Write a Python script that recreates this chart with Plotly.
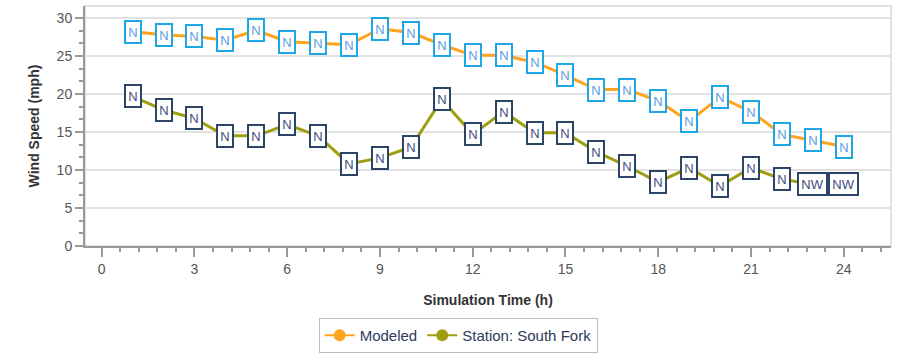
import plotly.graph_objects as go

hours = list(range(1, 25))
modeled = [28.2, 27.8, 27.6, 27.1, 28.4, 26.9, 26.7, 26.5, 28.6, 28.1, 26.5, 25.1,
           25.1, 24.2, 22.5, 20.6, 20.6, 19.1, 16.4, 19.6, 17.7, 14.7, 13.9, 13.1]
modeled_dir = ["N"] * 24
station = [19.7, 17.9, 16.8, 14.5, 14.5, 16.0, 14.5, 10.8, 11.6, 13.0, 19.3, 14.7,
           17.7, 14.9, 14.9, 12.4, 10.5, 8.4, 10.3, 7.9, 10.3, 8.8, 8.1, 8.2]
station_dir = ["N"] * 22 + ["NW", "NW"]
x_ticks = [0, 3, 6, 9, 12, 15, 18, 21, 24]
y_ticks = [0, 5, 10, 15, 20, 25, 30]

ORANGE = "#FFA41C"
OLIVE = "#9E9E0E"
BLUE = "#1EA7E8"
NAVY = "#2C4566"
FONT = "Liberation Sans"

fig = go.Figure()
fig.add_trace(go.Scatter(x=hours, y=modeled, mode="lines", name="Modeled",
                         line=dict(color=ORANGE, width=3), showlegend=False))
fig.add_trace(go.Scatter(x=hours, y=station, mode="lines", name="Station: South Fork",
                         line=dict(color=OLIVE, width=3), showlegend=False))
# legend entries
fig.add_trace(go.Scatter(x=[None], y=[None], mode="lines+markers", name="Modeled",
                         line=dict(color=ORANGE, width=2), marker=dict(size=12, color=ORANGE)))
fig.add_trace(go.Scatter(x=[None], y=[None], mode="lines+markers", name="Station: South Fork",
                         line=dict(color=OLIVE, width=2), marker=dict(size=12, color=OLIVE)))

for xs, ys, ds, bc, tc in [(hours, modeled, modeled_dir, BLUE, "#5AA0E0"),
                           (hours, station, station_dir, NAVY, "#3E4C82")]:
    for x, y, d in zip(xs, ys, ds):
        fig.add_annotation(x=x, y=y, xref="x", yref="y", text=d, showarrow=False,
                           font=dict(family=FONT, size=13, color=tc),
                           bgcolor="white", bordercolor=bc, borderwidth=2, borderpad=0,
                           width=14 if len(d) == 1 else 27, height=20,
                           xanchor="center", yanchor="middle")

fig.add_shape(type="rect", xref="paper", yref="paper", x0=0, x1=1, y0=0, y1=1,
              line=dict(color="#D8D8D8", width=1.5), layer="below")

fig.update_layout(
    width=905, height=354,
    margin=dict(l=85, r=14, t=6, b=108, autoexpand=False),
    paper_bgcolor="white", plot_bgcolor="white",
    font=dict(family=FONT, color="#555555", size=13),
    legend=dict(orientation="h", x=0.463, xanchor="center", y=-0.3, yanchor="top",
                bordercolor="#BBBBBB", borderwidth=1, font=dict(size=15, color="#2E3A5C"),
                itemwidth=30, tracegroupgap=0),
)
fig.update_xaxes(range=[-0.54, 25.53], tickvals=x_ticks, ticks="outside", ticklen=9,
                 tickcolor="#999999", tickwidth=1.5, showgrid=False, zeroline=False,
                 showline=True, linecolor="#999999", linewidth=2, automargin=False,
                 tickfont=dict(size=14, color="#555555"),
                 minor=dict(dtick=0.6, tick0=0, ticks="outside", ticklen=4, tickcolor="#999999"),
                 title=dict(text="<b>Simulation Time (h)</b>", standoff=19,
                            font=dict(size=14, color="#333333")))
fig.update_yaxes(range=[0, 31.6], tickvals=y_ticks, ticks="outside", ticklen=8,
                 tickcolor="#999999", tickwidth=1.5, showgrid=True, gridcolor="#E2E2E2",
                 gridwidth=1.5, zeroline=False, showline=True, linecolor="#999999", linewidth=2,
                 automargin=False,
                 tickfont=dict(size=14, color="#555555"),
                 minor=dict(dtick=5/3, tick0=0, ticks="outside", ticklen=4, tickcolor="#999999"),
                 title=dict(text="<b>Wind Speed (mph)</b>", standoff=14,
                            font=dict(size=14, color="#333333")))

fig.write_html("out.html", config={"displayModeBar": False},
               post_script="document.body.style.margin='0';")
